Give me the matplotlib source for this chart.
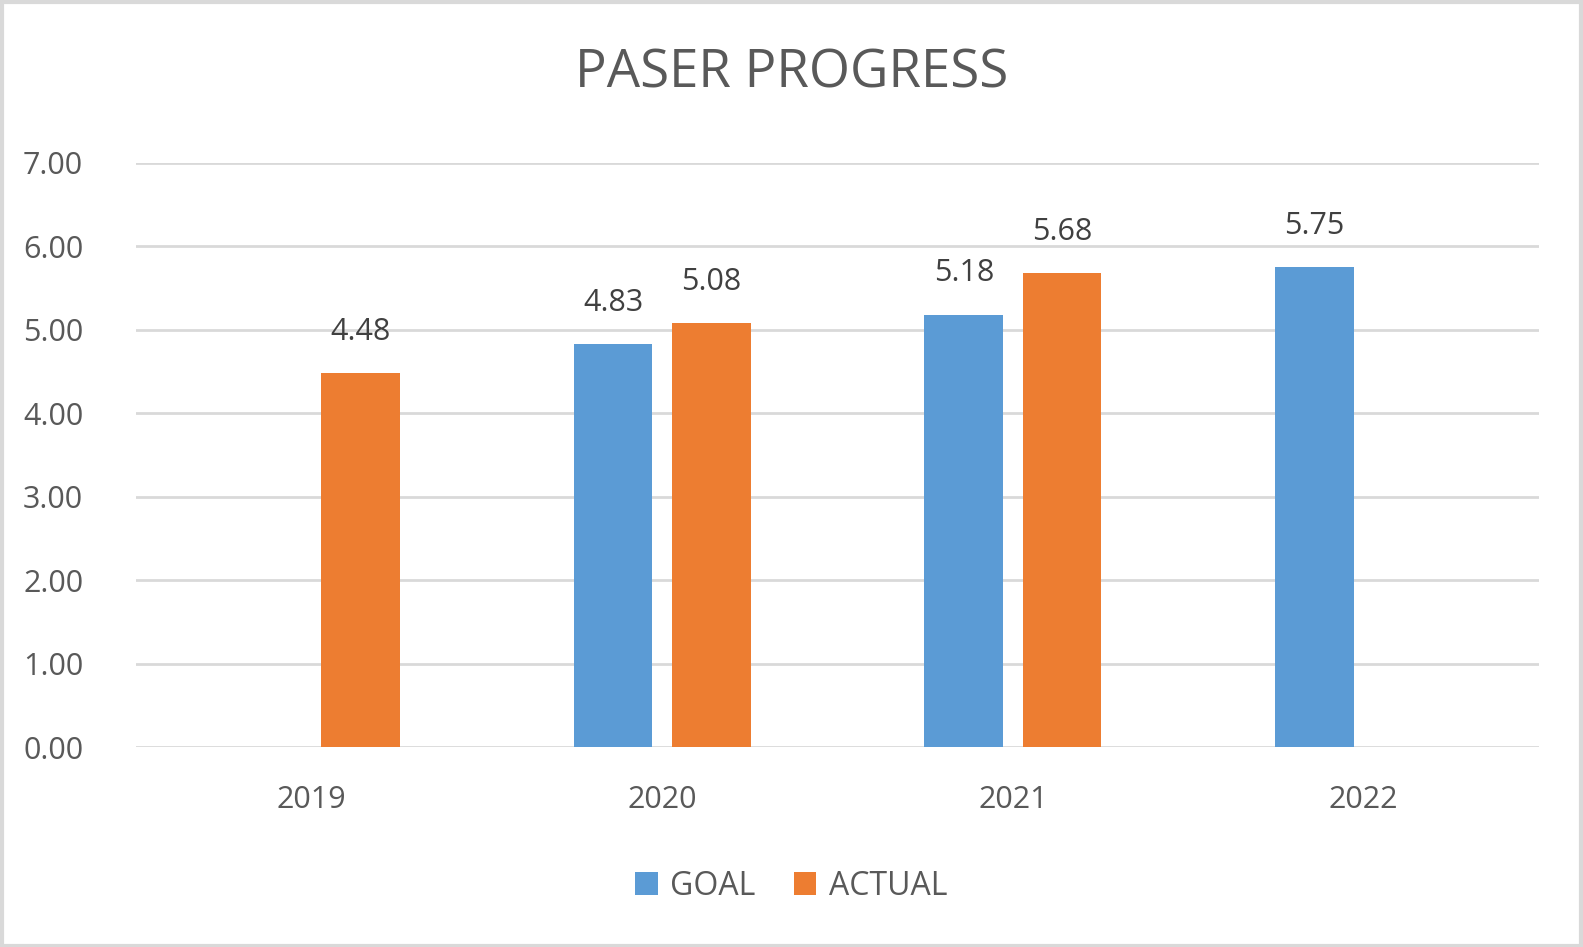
import numpy as np
import matplotlib.pyplot as plt

anos = ['2019', '2020', '2021', '2022']
goal = [np.nan, 4.83, 5.18, 5.75]
actual = [4.48, 5.08, 5.68, np.nan]

azul = '#5B9BD5'
laranja = '#ED7D31'
cinza_texto = '#595959'

plt.rcParams['font.family'] = ['Open Sans', 'DejaVu Sans']

fig = plt.figure(figsize=(15.83, 9.47), dpi=100)
ax = fig.add_axes([136/1583, 1 - 747/947, (1539-136)/1583, (747-163)/947])

x = np.arange(len(anos))
largura = 0.225
desloc = 0.14

b1 = ax.bar(x - desloc, goal, largura, color=azul, label='GOAL', zorder=3)
b2 = ax.bar(x + desloc, actual, largura, color=laranja, label='ACTUAL', zorder=3)

for barras, vals in [(b1, goal), (b2, actual)]:
    for b, v in zip(barras, vals):
        if np.isnan(v):
            continue
        ax.annotate(f'{v:.2f}', (b.get_x() + b.get_width()/2, v),
                    xytext=(0, 19), textcoords='offset points',
                    ha='center', va='bottom', fontsize=22, color='#404040')

ax.set_xlim(-0.5, 3.5)
ax.set_ylim(0, 7)
ax.set_yticks(np.arange(0, 8, 1))
ax.set_yticklabels([f'{v:.2f}' for v in range(8)])
ax.set_xticks(x)
ax.set_xticklabels(anos)
ax.tick_params(length=0, labelsize=22, colors=cinza_texto)
ax.tick_params(axis='y', pad=38)
ax.tick_params(axis='x', pad=27)
ax.grid(axis='y', color='#D9D9D9', linewidth=2, zorder=0)
for s in ax.spines.values():
    s.set_visible(False)

fig.text(0.5, 1 - 74/947, 'PASER PROGRESS', ha='center', va='center',
         fontsize=38, color=cinza_texto)

fig.legend(loc='center', bbox_to_anchor=(0.5, 1 - 886/947), ncol=2, frameon=False,
           fontsize=23, labelcolor=cinza_texto, handlelength=0.7, handleheight=0.7,
           handletextpad=0.4, columnspacing=1.2)

# moldura
fig.patches.append(plt.Rectangle((0.001, 0.001), 0.998, 0.997, transform=fig.transFigure,
                                 fill=False, edgecolor='#D9D9D9', linewidth=3))

fig.savefig('out.png', dpi=100)
